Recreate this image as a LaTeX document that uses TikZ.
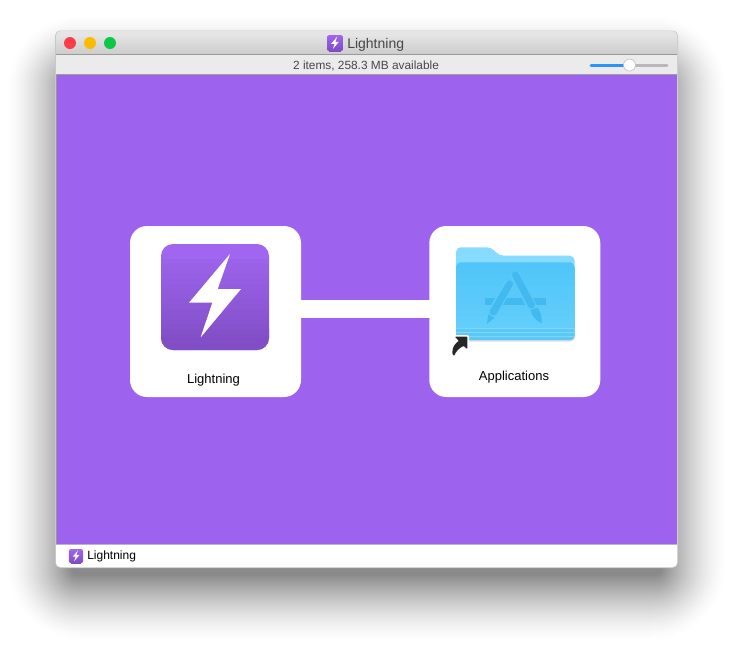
\documentclass[tikz,border=0pt]{standalone}
\usepackage{fontspec}
\setmainfont{Liberation Sans}
\definecolor{winpurple}{HTML}{9D63EF}
\definecolor{iconpurpletop}{HTML}{A066F0}
\definecolor{iconpurplebot}{HTML}{7E4CC2}
\definecolor{folderback}{HTML}{86DBFF}
\definecolor{foldertop}{HTML}{50C5F9}
\definecolor{folderbot}{HTML}{62CEFB}
\definecolor{folderband}{HTML}{5CC8F5}
\definecolor{folderline}{HTML}{7FD6FA}
\definecolor{glyphblue}{HTML}{42B9EF}
\definecolor{glyphgap}{HTML}{5ACAFA}
\definecolor{lightred}{HTML}{FC3D47}
\definecolor{lightyellow}{HTML}{FDBB00}
\definecolor{lightgreen}{HTML}{0BC845}
\definecolor{sliderblue}{HTML}{2A93FA}
\tikzset{
  tilebox/.style={fill=white,rounded corners=12.75pt,minimum width=128.25pt,minimum height=128.25pt,inner sep=0pt},
  tilebar/.style={draw=white,line width=13.5pt,shorten >=-1pt,shorten <=-1pt},
  tilelabel/.style={font=\fontsize{9.75pt}{11pt}\selectfont,text=black,inner sep=0pt},
  pics/licon/.style={code={
    \fill[iconpurpletop,rounded corners=#1] (-54,-53) rectangle (54,53);
    \fill[iconpurplebot!92!iconpurpletop,rounded corners=#1] (-54,20) rectangle (54,53);
    \foreach \k in {3,...,18}{
      \pgfmathsetmacro{\yk}{-53+\k*5}
      \pgfmathsetmacro{\m}{(\yk+53)/106*100}
      \fill[iconpurplebot!\m!iconpurpletop] (-54,\yk) rectangle (54,40);
    }
    \foreach \k in {19,20,21}{
      \pgfmathsetmacro{\yk}{-53+\k*5}
      \pgfmathsetmacro{\m}{(\yk+53)/106*100}
      \fill[iconpurplebot!\m!iconpurpletop] (-41,\yk) rectangle (41,53);
    }
    \fill[white] (15,-43) -- (2.7,-8) -- (26,-8) -- (-14.3,40.3) -- (-2.7,5.7) -- (-26,5.7) -- cycle;
  }}
}
\begin{document}
\begin{tikzpicture}[x=0.75pt,y=-0.75pt]
\useasboundingbox (0,0) rectangle (733,647);
\fill[white] (0,0) rectangle (733,647);
% shadow: concentric opaque layers, outermost first
\foreach \i in {65,64,...,0}{
  \pgfmathsetmacro{\shade}{46*(1-\i/66)^1.5}
  \pgfmathsetmacro{\rad}{4+0.8*\i}
  \fill[black!\shade!white,rounded corners=\rad pt]
    (72-\i,80-\i) rectangle (661+\i,575+\i);
}
\fill[black!22!white,rounded corners=4pt] (55,30.5) rectangle (678,568);
% window
\fill[white,rounded corners=4pt] (56,31) rectangle (677,567);
\fill[white!90!black,rounded corners=4pt] (56,31) rectangle (677,45);
\fill[top color=white!89!black,bottom color=white!80!black] (56,36) rectangle (677,54);
\fill[white!60!black] (56,54) rectangle (677,55);
\fill[white!92!black] (56,55) rectangle (677,74);
\fill[white!62!black] (56,74) rectangle (677,75);
\fill[white!60!black] (56,75) rectangle (57,544);
\fill[winpurple] (57,75) rectangle (677,544);
\fill[white!72!black] (56,544) rectangle (677,545);
\fill[white] (56,545) -- (677,545) -- (677,563) arc (0:90:4) -- (60,567) arc (90:180:4) -- cycle;
% traffic lights
\fill[lightred] (70,43) circle (6);
\fill[lightyellow] (90,43) circle (6);
\fill[lightgreen] (110,43) circle (6);
% title
\pic[scale=0.148] at (335,43) {licon=1.5pt};
\node[font=\fontsize{10.5pt}{12pt}\selectfont,text=black!72,inner sep=0pt,anchor=west] (wintitle) at (347,44.5) {Lightning};
\node[font=\fontsize{8.9pt}{10pt}\selectfont,text=black!72,inner sep=0pt] (status) at (366,65.5) {2 items, 258.3 MB available};
% slider
\draw[white!72!black,line width=2.25pt,line cap=round] (630,65.5) -- (667,65.5);
\draw[sliderblue,line width=2.25pt,line cap=round] (591,65.5) -- (629,65.5);
\fill[white] (629.5,65) circle (6);
\draw[white!75!black,line width=0.5pt] (629.5,65) circle (6);
% tiles
\node[tilebox] (apptile) at (215.5,311.5) {};
\node[tilebox] (foldertile) at (514.8,311.5) {};
\draw[tilebar] ([yshift=1.9pt]apptile.east) -- ([yshift=1.9pt]foldertile.west);
\pic[scale=1] at (215,297) {licon=9pt};
\node[tilelabel] (applabel) at (213.5,380.3) {Lightning};
\node[tilelabel] (folderlabel) at (514,377) {Applications};
% folder shadow
\fill[black,fill opacity=0.12,rounded corners=3pt] (456,300) rectangle (575,341.5);
% folder
\fill[folderback,rounded corners=3.5pt] (456,330) -- (456,247.3) -- (491.5,247.3) -- (499,255.7) -- (574.5,255.7) -- (574.5,330) -- cycle;
\fill[foldertop,rounded corners=3.5pt] (456,340) -- (456,262.3) -- (574.5,262.3) -- (574.5,340) -- cycle;
\foreach \k in {1,...,10}{
  \pgfmathsetmacro{\m}{\k*10}
  \pgfmathsetmacro{\yk}{262+\k*6}
  \fill[folderbot!\m!foldertop] (456,\yk) rectangle (574.5,329);
}
\fill[folderband,rounded corners=3pt] (456,340) -- (456,328) -- (574.5,328) -- (574.5,340) -- cycle;
\draw[folderline,line width=0.5pt] (456,328) -- (574.5,328);
\draw[folderline,line width=0.5pt] (456,332.7) -- (574.5,332.7);
\draw[folderline,line width=0.5pt] (456,336.7) -- (574.5,336.7);
% app-store glyph
\fill[glyphblue] (485,298.3) rectangle (546,305);
\draw[glyphgap,line width=7.6pt] (510,282) -- (492,314);
\draw[glyphgap,line width=7.6pt] (515,274) -- (533,309);
\draw[glyphblue,line width=5.25pt,line cap=round] (509.5,284) -- (493.3,312);
\fill[glyphblue] (488.5,314.2) -- (494.5,317.8) -- (486.7,324) -- cycle;
\draw[glyphblue,line width=5.25pt,line cap=round] (515.5,275) -- (531.5,305);
\fill[glyphblue] (530.5,310) .. controls (531,315) and (536,321) .. (541.7,323.3) .. controls (542,318) and (541,312) .. (537.5,307.5) -- cycle;
% alias arrow
\fill[white,rounded corners=1pt] (453.5,335) -- (469,335) -- (469,351) -- (464,348) .. controls (460,350) and (456.5,353.5) .. (454.5,358) -- (451,354) .. controls (451,347) and (453.5,343.5) .. (456.5,341) -- cycle;
\fill[black!85,rounded corners=0.5pt] (455,336.7) -- (467.3,336.7) -- (467.3,349) -- (463.6,346) .. controls (459,348) and (456,351.5) .. (454,356) -- (452.3,353.5) .. controls (452.3,347.5) and (454.5,344) .. (458.8,341) -- cycle;
% status bar
\pic[scale=0.13] at (76,556) {licon=1.5pt};
\node[font=\fontsize{9pt}{10pt}\selectfont,text=black,inner sep=0pt,anchor=west] (pathlabel) at (87,556) {Lightning};
\end{tikzpicture}
\end{document}
